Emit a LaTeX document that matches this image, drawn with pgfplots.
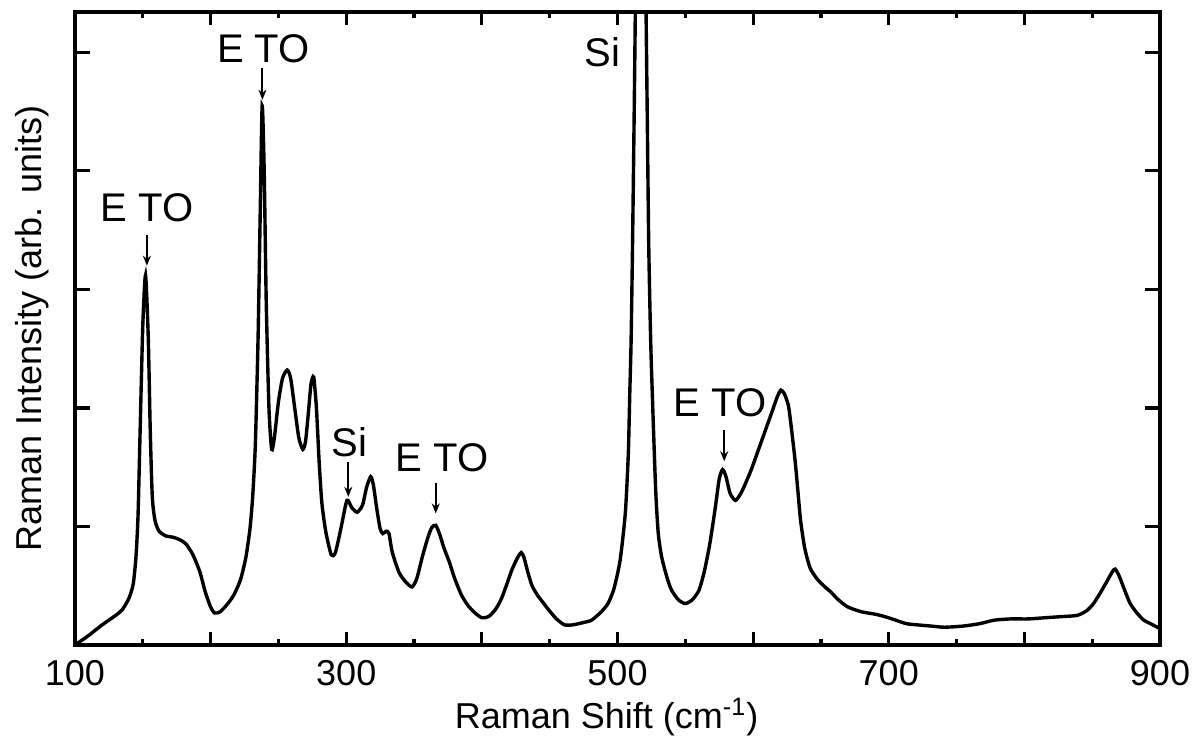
\documentclass[border=0pt]{standalone}
\usepackage{fontspec}
\setmainfont{Liberation Sans}
\usepackage{pgfplots}
\pgfplotsset{compat=1.18}
\usetikzlibrary{arrows.meta}
\begin{document}
\begin{tikzpicture}
\begin{axis}[
  scale only axis,
  width=542.5pt, height=316.5pt,
  xmin=100, xmax=900, ymin=0, ymax=5.34,
  axis line style={line width=1.8pt},
  tick align=inside,
  tick style={black, line width=1.6pt},
  xtick={100,200,...,900},
  xticklabels={100,,300,,500,,700,,900},
  minor xtick={150,250,...,850},
  major tick length=6.5pt,
  minor tick length=2.8pt,
  ytick=\empty,
  extra y ticks={1,2,3,4,5},
  extra y tick labels={},
  extra y tick style={major tick length=7.5pt},
  /pgf/number format/assume math mode=true,
  ticklabel style={font=\fontsize{18}{20}\selectfont},
  xticklabel style={anchor=base, yshift=-20pt, inner sep=0pt},
  xlabel={Raman Shift (cm\textsuperscript{-1})},
  ylabel={Raman Intensity (arb. units)},
  label style={font=\fontsize{18}{20}\selectfont},
  xlabel style={at={(axis description cs:0.49,0)}, anchor=base, yshift=-41.5pt, inner sep=0pt},
  ylabel style={at={(axis description cs:-0.0396,0.5)}, anchor=center, rotate=0, inner sep=0pt},
  clip=true,
]
\addplot[black, line width=1.7pt, smooth, tension=0.4] coordinates {
(100,0.00) (110,0.08) (120,0.17) (130,0.25) (135,0.30) (140,0.40) (143,0.52)
(145,0.75) (146.5,1.1) (148,1.8) (150,2.7) (152,3.12) (154,2.6) (155.5,1.8)
(157,1.25) (159,1.05) (162,0.96) (167,0.92) (172,0.91) (177,0.89) (182,0.85)
(187,0.76) (192,0.62) (196,0.45) (200,0.32) (203,0.27) (207,0.28) (212,0.34)
(217,0.42) (222,0.55) (226,0.74) (229,0.98) (231,1.25) (233,1.7) (235,2.6)
(236.5,3.6) (238,4.55) (239.5,4.0) (241,2.9) (243,2.0) (245,1.65) (247,1.75)
(250,2.05) (253,2.25) (256.5,2.32) (259,2.25) (262,2.0) (265,1.75) (268,1.65)
(270,1.72) (272,1.95) (274,2.2) (276,2.26) (278,2.0) (280,1.55) (282,1.2)
(285,0.95) (289,0.76) (292,0.78) (296,0.98) (300.5,1.22) (304,1.16) (308,1.12)
(312,1.18) (315,1.33) (318,1.42) (320,1.35) (322.5,1.15) (325,0.98) (327,0.94)
(329.5,0.96) (331.5,0.94) (334,0.78) (339,0.61) (344,0.53) (348.5,0.49)
(352,0.56) (356,0.74) (360,0.90) (363,0.99) (366,1.01) (369,0.93) (372,0.82)
(376,0.70) (380,0.56) (385,0.42) (390,0.33) (395,0.27) (400,0.23) (405,0.24)
(410,0.30) (414,0.38) (418,0.50) (422,0.63) (426,0.73) (429,0.78) (431,0.74)
(434,0.61) (437,0.50) (441,0.42) (445,0.36) (449,0.30) (455,0.22) (461,0.17)
(467,0.17) (475,0.19) (481,0.21) (488,0.28) (493,0.35) (497,0.46) (500,0.60)
(502,0.72) (504,0.91) (506,1.15) (508,1.62) (509,2.1) (510,2.55) (511,3.3)
(512,4.2) (513,5.2) (515,7.5) (517,9.0) (519,7.5) (521,5.4) (522,4.4)
(523,3.4) (524,2.8) (525,2.35) (528,1.35) (530,0.95) (532.6,0.74) (537,0.55)
(540,0.46) (545,0.38) (550,0.35) (555,0.38) (560,0.46) (564,0.62) (568,0.85)
(572,1.15) (575,1.40) (577.5,1.48) (580,1.42) (583,1.28) (587,1.22) (591,1.28)
(595,1.38) (599,1.49) (604,1.65) (609,1.81) (614,1.97) (618,2.10) (620.5,2.15)
(623,2.12) (626,2.02) (628,1.85) (631,1.55) (633,1.3) (635,1.05) (638,0.82)
(642,0.65) (647,0.56) (652,0.50) (657,0.45) (663,0.38) (670,0.32) (680,0.28)
(690,0.26) (697,0.24) (705,0.21) (713,0.18) (721,0.17) (731,0.16) (741,0.15)
(755,0.16) (767,0.18) (778,0.21) (790,0.22) (803,0.22) (815,0.23) (828,0.24)
(839,0.25) (846,0.29) (851,0.35) (856,0.44) (861,0.54) (865,0.62) (867,0.64)
(870,0.58) (874,0.46) (878,0.35) (883,0.27) (888,0.21) (893,0.18) (898,0.15)
(900,0.14)
};
\begin{scope}[every node/.style={font=\fontsize{20}{22}\selectfont, inner sep=0pt, anchor=center}]
\node at (axis cs:153.3,3.69) {E TO};
\node at (axis cs:239,5.03) {E TO};
\node at (axis cs:302.2,1.71) {Si};
\node at (axis cs:370.6,1.58) {E TO};
\node at (axis cs:489,5.0) {Si};
\node at (axis cs:575.7,2.04) {E TO};
\end{scope}
\begin{scope}[line width=1pt, -{Stealth[length=5pt,width=4pt]}]
\draw (axis cs:153,3.46) -- (axis cs:153,3.20);
\draw (axis cs:238.2,4.87) -- (axis cs:238.2,4.60);
\draw (axis cs:301.5,1.54) -- (axis cs:301.5,1.25);
\draw (axis cs:366,1.37) -- (axis cs:366,1.11);
\draw (axis cs:578.7,1.81) -- (axis cs:578.7,1.55);
\end{scope}
\end{axis}
\pgfresetboundingbox
\path[use as bounding box] (-37.5pt,-47.5pt) rectangle (563.5pt,322.5pt);
\end{tikzpicture}
\end{document}
